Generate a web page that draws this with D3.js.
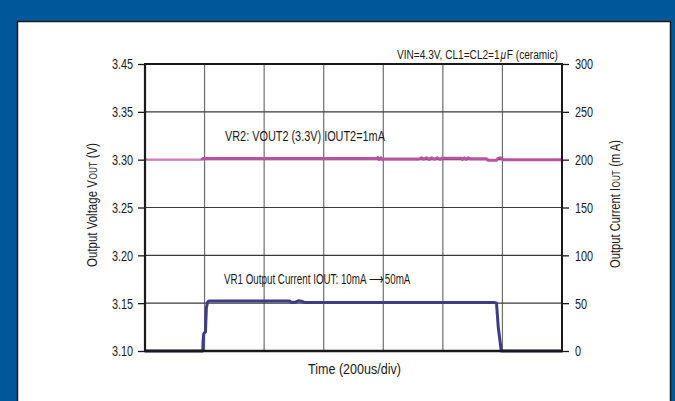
<!DOCTYPE html>
<html>
<head>
<meta charset="utf-8">
<script src="https://cdn.jsdelivr.net/npm/d3@7"></script>
<style>
  html, body { margin: 0; padding: 0; background: #00589b; }
  svg { display: block; }
  text { font-family: "Liberation Sans", Arial, sans-serif; fill: #1a1a1a; white-space: pre; }
</style>
</head>
<body>
<svg id="chart" width="675" height="401"></svg>
<script>
// ---- data ----
const timeDomain = [0, 1400];           // us, 7 divisions of 200us
const timeTicks = [0, 200, 400, 600, 800, 1000, 1200, 1400];
const voltTicks = [3.10, 3.15, 3.20, 3.25, 3.30, 3.35, 3.40];
const voltTickLabels = ["3.10", "3.15", "3.20", "3.25", "3.30", "3.35", "3.45"];
const currTicks = [0, 50, 100, 150, 200, 250, 300];

// VR2 output voltage trace (t in us, V)
const voltT = [0, 190, 194, 775, 782, 786, 792, 798, 805, 920, 928, 936, 945, 954, 963, 972, 981, 990, 998, 1062, 1066, 1072, 1078, 1084, 1092, 1146, 1152, 1180, 1186, 1195, 1202, 1400];
const voltV = [3.3000, 3.3000, 3.3012, 3.3012, 3.3022, 3.3002, 3.3020, 3.3000, 3.3008, 3.3007, 3.3019, 3.3004, 3.3020, 3.3003, 3.3019, 3.3004, 3.3020, 3.3004, 3.3016, 3.3016, 3.3003, 3.3019, 3.3002, 3.3018, 3.3010, 3.3010, 3.2994, 3.2994, 3.3016, 3.3019, 3.3000, 3.3000];

// VR1 output current trace (t in us, mA)
const currT = [0, 194, 195, 197, 203, 206, 210, 215, 485, 490, 505, 515, 525, 535, 1172, 1180, 1186, 1196, 1400];
const currI = [0, 0, 10, 18, 20, 45, 51, 52.3, 52.3, 51, 51, 52.5, 52, 50.8, 50.6, 50.2, 25, 0, 0];

// ---- layout ----
const svg = d3.select("#chart");
const W = 675, H = 401;
const m = { left: 145, right: 562, top: 64, bottom: 351 };

function squeeze(sel, factor) {
  sel.each(function () {
    const len = this.getComputedTextLength();
    d3.select(this).attr("textLength", len * factor).attr("lengthAdjust", "spacingAndGlyphs");
  });
}
// lay out styled segments one after another, then condense the group horizontally to a target width
function segText(parent, x0, y0, size, segs, target, gap = 0) {
  const g = parent.append("g");
  const nodes = segs.map(s => {
    const t = g.append("text").attr("y", 0).attr("font-size", s.size || size)
      .attr("xml:space", "preserve").text(s.t);
    if (s.italic) t.attr("font-style", "italic");
    return t;
  });
  const lens = nodes.map(n => n.node().getComputedTextLength());
  let xx = 0;
  nodes.forEach((n, i) => { n.attr("x", xx); xx += lens[i] + gap; });
  const total = xx - gap;
  g.attr("transform", `translate(${x0},${y0}) scale(${target / total},1)`);
  return g;
}

svg.append("rect").attr("x", 0).attr("y", 0).attr("width", W).attr("height", H).attr("fill", "#00589b");
svg.append("rect").attr("x", 17.5).attr("y", 21.5).attr("width", 653).attr("height", 385)
  .attr("fill", "#ffffff").attr("stroke", "#1a1a1a").attr("stroke-width", 1.5);

const x = d3.scaleLinear().domain(timeDomain).range([m.left, m.right]);
const yV = d3.scaleLinear().domain([3.10, 3.40]).range([m.bottom, m.top]);
const yI = d3.scaleLinear().domain([0, 300]).range([m.bottom, m.top]);

// grid
const grid = svg.append("g");
grid.selectAll("line.v").data(timeTicks.slice(1, -1)).join("line")
  .attr("x1", d => x(d)).attr("x2", d => x(d))
  .attr("y1", m.top).attr("y2", m.bottom)
  .attr("stroke", "#6e6e6e").attr("stroke-width", 1.2);
grid.selectAll("line.h").data(voltTicks.slice(1, -1)).join("line")
  .attr("x1", m.left).attr("x2", m.right)
  .attr("y1", d => yV(d)).attr("y2", d => yV(d))
  .attr("stroke", "#3a3a3a").attr("stroke-width", 1.1);

// traces
const vData = voltT.map((t, i) => [t, voltV[i]]);
const iData = currT.map((t, i) => [t, currI[i]]);
svg.append("path").datum(vData.slice(0, 2))
  .attr("d", d3.line().x(d => x(d[0])).y(d => yV(d[1])))
  .attr("fill", "none").attr("stroke", "#cf7fbd").attr("stroke-width", 2.4);
svg.append("path").datum(vData.slice(1))
  .attr("d", d3.line().x(d => x(d[0])).y(d => yV(d[1])))
  .attr("fill", "none").attr("stroke", "#b9539f").attr("stroke-width", 3).attr("stroke-linejoin", "round");
svg.append("path").datum(iData)
  .attr("d", d3.line().x(d => x(d[0])).y(d => yI(d[1])))
  .attr("fill", "none").attr("stroke", "#3d3c86").attr("stroke-width", 3).attr("stroke-linejoin", "round");

// axes
const leftAxis = d3.axisLeft(yV).tickValues(voltTicks).tickSize(7).tickPadding(5)
  .tickFormat((d, i) => voltTickLabels[i]);
const rightAxis = d3.axisRight(yI).tickValues(currTicks).tickSize(7).tickPadding(6)
  .tickFormat(d3.format("d"));
const bottomAxis = d3.axisBottom(x).tickValues([]).tickSize(0);

function styleAxis(g) {
  g.select(".domain").remove();
  g.selectAll(".tick line").attr("stroke", "#1a1a1a").attr("stroke-width", 1.3);
  g.selectAll(".tick text").attr("font-size", 15.5).attr("fill", "#1a1a1a")
    .style("font-family", '"Liberation Sans", Arial, sans-serif').call(s => squeeze(s, 0.7));
}
svg.append("g").attr("transform", `translate(${m.left},0)`).call(leftAxis).call(styleAxis);
svg.append("g").attr("transform", `translate(${m.right},0)`).call(rightAxis).call(styleAxis);
svg.append("g").attr("transform", `translate(0,${m.bottom})`).call(bottomAxis).call(g => g.select(".domain").remove());

// frame
const frame = svg.append("g").attr("stroke", "#1a1a1a").attr("fill", "none");
frame.append("line").attr("x1", m.left - 1).attr("x2", m.right + 1).attr("y1", m.top).attr("y2", m.top).attr("stroke-width", 2);
frame.append("line").attr("x1", m.left).attr("x2", m.left).attr("y1", m.top).attr("y2", m.bottom).attr("stroke-width", 2.2);
frame.append("line").attr("x1", m.right).attr("x2", m.right).attr("y1", m.top).attr("y2", m.bottom).attr("stroke-width", 2);
frame.append("line").attr("x1", m.left - 1).attr("x2", m.right + 1).attr("y1", m.bottom).attr("y2", m.bottom).attr("stroke-width", 2.6);

// annotations
segText(svg, 397, 59, 13.5, [
  { t: "VIN=4.3V, CL1=CL2=1" }, { t: "μ", italic: true }, { t: "F (ceramic)" }
], 161, 1);
segText(svg, 225, 141, 14.5, [{ t: "VR2: VOUT2 (3.3V) IOUT2=1mA" }], 160);
segText(svg, 224, 284, 14.5, [{ t: "VR1 Output Current IOUT: 10mA ⟶ 50mA" }], 188);
segText(svg, 308, 374, 14.5, [{ t: "Time (200us/div)" }], 93);

const ltg = svg.append("g").attr("transform", "translate(97,267) rotate(-90)");
segText(ltg, 0, 0, 14.5, [
  { t: "Output Voltage V" }, { t: "OUT", size: 10.5 }, { t: " (V)" }
], 124, 0.6);
const rtg = svg.append("g").attr("transform", "translate(620,268) rotate(-90)");
segText(rtg, 0, 0, 14.5, [
  { t: "Output Current I" }, { t: "OUT", size: 10.5 }, { t: " (m A)" }
], 128, 0.6);
</script>
</body>
</html>
